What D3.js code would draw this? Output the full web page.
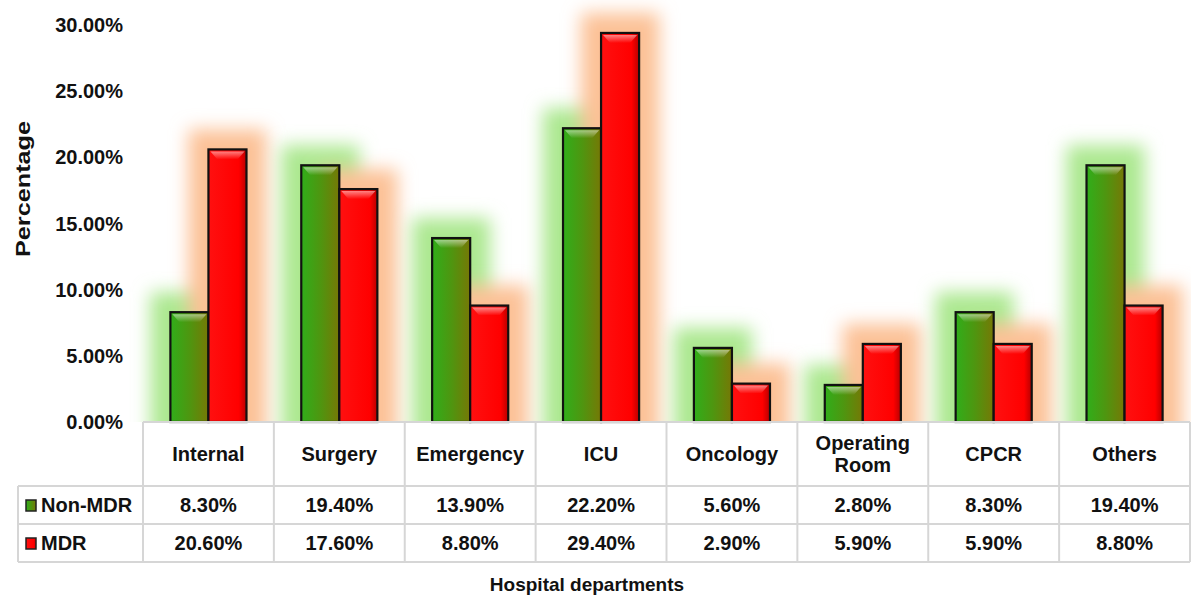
<!DOCTYPE html>
<html>
<head>
<meta charset="utf-8">
<script src="https://cdn.jsdelivr.net/npm/d3@7"></script>
<style>
  html, body { margin: 0; padding: 0; background: #fff; }
  text { font-family: "Liberation Sans", Arial, sans-serif; font-weight: bold; fill: #111; }
</style>
</head>
<body>
<script>
// chart values
var categories = ['Internal', 'Surgery', 'Emergency', 'ICU', 'Oncology', 'Operating Room', 'CPCR', 'Others'];
var seriesNames = ['Non-MDR', 'MDR'];
var nonMdr = [8.3, 19.4, 13.9, 22.2, 5.6, 2.8, 8.3, 19.4];
var mdr = [20.6, 17.6, 8.8, 29.4, 2.9, 5.9, 5.9, 8.8];
var yTicks = [0, 5, 10, 15, 20, 25, 30];

var width = 1191,
    height = 599,
    plotLeft = 143,
    plotRight = 1190,
    base = 422,
    plotTop = 25,
    headerBottom = 486,
    row1Bottom = 524,
    row2Bottom = 562,
    legendLeft = 18,
    glowPad = 20,
    gridColor = '#d6d6d6';

var svg = d3.select('body').append('svg')
    .attr('width', width)
    .attr('height', height);

var defs = svg.append('defs');

// bar fills
var makeGrad = function(id, stops, x2, y2) {
    var g = defs.append('linearGradient')
        .attr('id', id)
        .attr('x1', '0%').attr('y1', '0%')
        .attr('x2', x2).attr('y2', y2);
    stops.forEach(function(s) {
        g.append('stop').attr('offset', s[0]).attr('stop-color', s[1]).attr('stop-opacity', s[2] === undefined ? 1 : s[2]);
    });
};
makeGrad('g-green', [['0%', '#30ae1a'], ['50%', '#4e9610'], ['100%', '#767806']], '100%', '0%');
makeGrad('g-red', [['0%', '#ff1010'], ['80%', '#ff0000'], ['100%', '#b80000']], '100%', '0%');
makeGrad('g-hl', [['0%', '#ffffff', 0.5], ['100%', '#ffffff', 0]], '0%', '100%');

defs.append('filter')
    .attr('id', 'blur')
    .attr('x', '-80%').attr('y', '-60%')
    .attr('width', '260%').attr('height', '220%')
    .append('feGaussianBlur')
    .attr('stdDeviation', 9);

defs.append('clipPath').attr('id', 'plot-clip')
    .append('rect')
    .attr('x', 0).attr('y', 0)
    .attr('width', width).attr('height', base);

var x0 = d3.scaleBand().domain(categories).range([plotLeft, plotRight]).padding(0);
var x1 = d3.scaleBand().domain(seriesNames).range([0, x0.bandwidth()]).paddingInner(0).paddingOuter(0.72);
var y = d3.scaleLinear().domain([0, 30]).range([base, plotTop]);

var fills = { 'Non-MDR': 'url(#g-green)', 'MDR': 'url(#g-red)' };
var glows = { 'Non-MDR': '#ace890', 'MDR': '#fcc196' };

var data = [];
categories.forEach(function(c, i) {
    data.push({ cat: c, key: 'Non-MDR', value: nonMdr[i] });
    data.push({ cat: c, key: 'MDR', value: mdr[i] });
});

// y tick labels
svg.append('g').selectAll('text')
    .data(yTicks)
    .enter().append('text')
    .attr('x', 123)
    .attr('y', function(d) { return y(d); })
    .attr('dy', '0.35em')
    .attr('text-anchor', 'end')
    .style('font-size', '20px')
    .text(function(d) { return d3.format('.2f')(d) + '%'; });

// glows behind bars
var glowG = svg.append('g').attr('clip-path', 'url(#plot-clip)');
glowG.selectAll('rect')
    .data(data)
    .enter().append('rect')
    .attr('x', function(d) { return x0(d.cat) + x1(d.key) - glowPad; })
    .attr('y', function(d) { return y(d.value) - glowPad; })
    .attr('width', x1.bandwidth() + 2 * glowPad)
    .attr('height', function(d) { return base - y(d.value) + 40; })
    .attr('fill', function(d) { return glows[d.key]; })
    .attr('filter', 'url(#blur)');

// bars
var bars = svg.append('g').selectAll('g')
    .data(data)
    .enter().append('g');

bars.append('rect')
    .attr('x', function(d) { return x0(d.cat) + x1(d.key); })
    .attr('y', function(d) { return y(d.value); })
    .attr('width', x1.bandwidth())
    .attr('height', function(d) { return base - y(d.value); })
    .attr('fill', function(d) { return fills[d.key]; })
    .attr('stroke', '#111')
    .attr('stroke-width', 2.2);

// top bevel highlight
bars.append('path')
    .attr('d', function(d) {
        var bx = x0(d.cat) + x1(d.key), bw = x1.bandwidth(), by = y(d.value);
        return 'M' + (bx + 2) + ',' + (by + 2) + 'L' + (bx + bw - 2) + ',' + (by + 2) +
            'L' + (bx + bw - 9) + ',' + (by + 10) + 'L' + (bx + 9) + ',' + (by + 10) + 'Z';
    })
    .attr('fill', 'url(#g-hl)');

// table grid
var grid = svg.append('g')
    .attr('stroke', gridColor)
    .attr('stroke-width', 2)
    .attr('fill', 'none');

grid.append('line').attr('x1', plotLeft).attr('x2', plotRight).attr('y1', base).attr('y2', base);
grid.append('line').attr('x1', legendLeft).attr('x2', plotRight).attr('y1', headerBottom).attr('y2', headerBottom);
grid.append('line').attr('x1', legendLeft).attr('x2', plotRight).attr('y1', row1Bottom).attr('y2', row1Bottom);
grid.append('line').attr('x1', legendLeft).attr('x2', plotRight).attr('y1', row2Bottom).attr('y2', row2Bottom);
grid.append('line').attr('x1', legendLeft).attr('x2', legendLeft).attr('y1', headerBottom).attr('y2', row2Bottom);
grid.selectAll('.vline')
    .data(categories.concat(['end']))
    .enter().append('line')
    .attr('class', 'vline')
    .attr('x1', function(d) { return d === 'end' ? plotRight : x0(d); })
    .attr('x2', function(d) { return d === 'end' ? plotRight : x0(d); })
    .attr('y1', base)
    .attr('y2', row2Bottom);

// category header labels
var head = svg.append('g').selectAll('text')
    .data(categories)
    .enter().append('text')
    .attr('text-anchor', 'middle')
    .style('font-size', '20px')
    .attr('x', function(d) { return x0(d) + x0.bandwidth() / 2; })
    .attr('y', (base + headerBottom) / 2);

head.each(function(d) {
    var t = d3.select(this);
    var words = d.split(' ');
    if (words.length === 1) {
        t.append('tspan').attr('dy', '0.35em').text(d);
    } else {
        words.forEach(function(w, i) {
            t.append('tspan')
                .attr('x', x0(d) + x0.bandwidth() / 2)
                .attr('dy', i === 0 ? '-0.2em' : '1.1em')
                .text(w);
        });
    }
});

// value rows
var rows = [
    { key: 'Non-MDR', values: nonMdr, top: headerBottom, bottom: row1Bottom },
    { key: 'MDR', values: mdr, top: row1Bottom, bottom: row2Bottom }
];

rows.forEach(function(r) {
    var cy = (r.top + r.bottom) / 2;
    svg.append('g').selectAll('text')
        .data(categories)
        .enter().append('text')
        .attr('text-anchor', 'middle')
        .attr('x', function(d) { return x0(d) + x0.bandwidth() / 2; })
        .attr('y', cy)
        .attr('dy', '0.35em')
        .style('font-size', '20px')
        .text(function(d, i) { return d3.format('.2f')(r.values[i]) + '%'; });

    // legend key
    svg.append('rect')
        .attr('x', 26)
        .attr('y', cy - 5)
        .attr('width', 10)
        .attr('height', 11)
        .attr('fill', fills[r.key])
        .attr('stroke', '#222')
        .attr('stroke-width', 1.5);

    svg.append('text')
        .attr('x', 41)
        .attr('y', cy)
        .attr('dy', '0.35em')
        .style('font-size', '20px')
        .text(r.key);
});

// axis titles
svg.append('text')
    .attr('transform', 'translate(30,' + 189 + ') rotate(-90)')
    .attr('text-anchor', 'middle')
    .attr('textLength', 136)
    .attr('lengthAdjust', 'spacingAndGlyphs')
    .style('font-size', '21px')
    .text('Percentage');

svg.append('text')
    .attr('x', 587)
    .attr('y', 584)
    .attr('dy', '0.35em')
    .attr('text-anchor', 'middle')
    .style('font-size', '19px')
    .text('Hospital departments');
</script>
</body>
</html>
